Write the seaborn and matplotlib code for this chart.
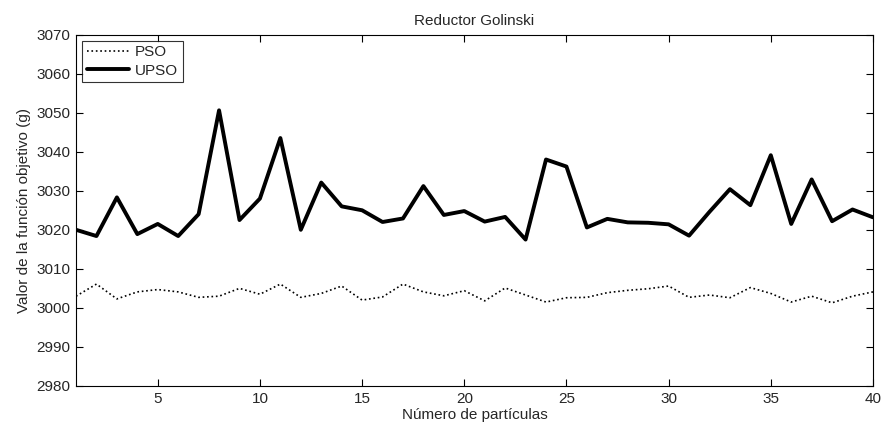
import matplotlib
matplotlib.use("Agg")
import matplotlib.pyplot as plt
import seaborn as sns
import pandas as pd

particulas = list(range(1, 41))
pso = [3003.0, 3006.1, 3002.3, 3004.1, 3004.7, 3004.1, 3002.7, 3003.0, 3005.0, 3003.5,
       3006.1, 3002.7, 3003.7, 3005.6, 3002.0, 3002.8, 3006.1, 3004.1, 3003.1, 3004.4,
       3001.8, 3005.1, 3003.3, 3001.5, 3002.6, 3002.7, 3003.9, 3004.5, 3004.9, 3005.6,
       3002.7, 3003.3, 3002.6, 3005.2, 3003.7, 3001.5, 3003.0, 3001.3, 3003.0, 3004.1]
upso = [3020.0, 3018.4, 3028.3, 3018.9, 3021.5, 3018.4, 3024.0, 3050.6, 3022.5, 3028.0,
        3043.5, 3020.0, 3032.1, 3026.0, 3025.0, 3022.0, 3022.9, 3031.2, 3023.8, 3024.8,
        3022.1, 3023.3, 3017.5, 3038.0, 3036.2, 3020.6, 3022.8, 3021.9, 3021.8, 3021.4,
        3018.5, 3024.6, 3030.4, 3026.3, 3039.1, 3021.5, 3032.9, 3022.2, 3025.2, 3023.2]
xticks = [5, 10, 15, 20, 25, 30, 35, 40]
yticks = list(range(2980, 3071, 10))

sns.set_theme(style="white")
plt.rcParams['font.family'] = ['Liberation Sans', 'DejaVu Sans']

df = pd.DataFrame({"x": particulas, "PSO": pso, "UPSO": upso})

fig = plt.figure(figsize=(8.85, 4.32), dpi=100)
ax = fig.add_axes([0.0859, 0.1065, 0.9005, 0.8135])

sns.lineplot(data=df, x="x", y="PSO", ax=ax, color="black", linestyle=":",
             linewidth=1.2, label="PSO")
sns.lineplot(data=df, x="x", y="UPSO", ax=ax, color="black", linestyle="-",
             linewidth=2.8, label="UPSO")

ax.set_xlim(1, 40)
ax.set_ylim(2980, 3070)
ax.set_xticks(xticks)
ax.set_yticks(yticks)
ax.tick_params(direction="in", length=5, width=0.8, colors="black",
               top=True, right=True, bottom=True, left=True,
               labelsize=11, labelcolor="#262626", pad=4)
for s in ax.spines.values():
    s.set_color("black")
    s.set_linewidth(0.8)

ax.set_title("Reductor Golinski", fontsize=11, color="#262626", pad=7)
ax.set_xlabel("Número de partículas", fontsize=11, color="#262626", labelpad=2)
ax.set_ylabel("Valor de la función objetivo (g)", fontsize=11, color="#262626", labelpad=4)

leg = ax.legend(loc="upper left", fontsize=11, frameon=True, fancybox=False,
                handlelength=2.8, borderpad=0.3, labelspacing=0.3,
                handletextpad=0.35, borderaxespad=0.4)
leg.get_frame().set_edgecolor("black")
leg.get_frame().set_linewidth(0.8)
for t in leg.get_texts():
    t.set_color("#262626")

fig.savefig("out.png", dpi=100)
